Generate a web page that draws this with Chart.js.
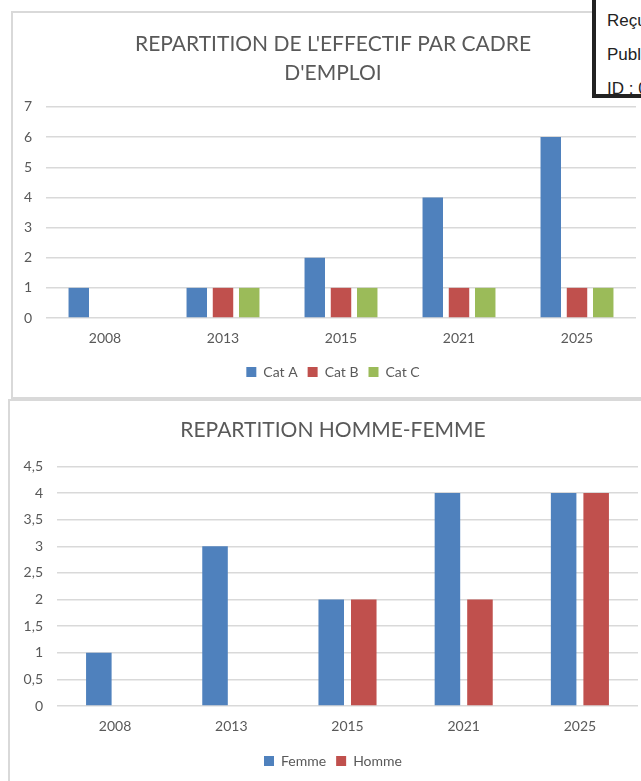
<!DOCTYPE html>
<html lang="fr">
<head>
<meta charset="utf-8">
<title>Répartition de l'effectif</title>
<script src="https://cdn.jsdelivr.net/npm/chart.js@4.4.1/dist/chart.umd.min.js"></script>
<style>
  html, body { margin: 0; padding: 0; background: #fff; }
  body { width: 641px; height: 781px; overflow: hidden; position: relative; }
  .frame { position: absolute; box-sizing: border-box; border: 2px solid #d9d9d9; background: #fff; }
  #frameEffectif { left: 11px; top: 11px; width: 680px; height: 388px; }
  #frameGenre { left: 8px; top: 399px; width: 680px; height: 420px; }
  canvas { position: absolute; }
  #chartEffectif { left: 11px; top: 11px; }
  #chartGenre { left: 9px; top: 399px; }
  .stamp {
    position: absolute; left: 592px; top: -10px; width: 260px; height: 108px;
    box-sizing: border-box; border: 4px solid #222; background: #fff;
    padding: 9.5px 0 0 11px;
    font-family: "Liberation Sans", Arial, sans-serif; font-size: 17px; color: #222;
    white-space: nowrap;
  }
  .stamp div { line-height: 34.3px; height: 34.3px; }
</style>
</head>
<body>
<div class="frame" id="frameEffectif"></div>
<div class="frame" id="frameGenre"></div>
<canvas id="chartEffectif" width="644" height="387"></canvas>
<canvas id="chartGenre" width="648" height="389"></canvas>
<div class="stamp">
  <div>Reçu en préfecture le</div>
  <div>Publié le</div>
  <div>ID : 0</div>
</div>

<script>
// Années
const annees = ['2008', '2013', '2015', '2021', '2025'];

// Effectif par cadre d'emploi
const catA = [1, 1, 2, 4, 6];
const catB = [0, 1, 1, 1, 1];
const catC = [0, 1, 1, 1, 1];

// Répartition homme-femme
const femmes = [1, 3, 2, 4, 4];
const hommes = [0, 0, 2, 2, 4];

const BLEU = '#4f81bd';
const ROUGE = '#c0504d';
const VERT = '#9bbb59';
const GRIS_TEXTE = '#595959';
const GRIS_GRILLE = '#d9d9d9';

Chart.defaults.font.family = 'Lato, "Open Sans", "DejaVu Sans", sans-serif';
Chart.defaults.color = GRIS_TEXTE;

function options(cfg) {
  return {
    responsive: false,
    animation: false,
    layout: { padding: { top: 0, left: 0, right: 0, bottom: cfg.margeBas } },
    plugins: {
      tooltip: { enabled: false },
      title: {
        display: true,
        text: cfg.titre,
        color: GRIS_TEXTE,
        font: { size: 21, weight: 'normal', lineHeight: 1.38 },
        padding: cfg.titrePadding
      },
      legend: {
        position: 'bottom',
        labels: {
          boxWidth: 10, boxHeight: 10, padding: 10,
          color: GRIS_TEXTE, font: { size: 14 }
        }
      }
    },
    scales: {
      x: {
        grid: { display: false, drawTicks: false },
        border: { display: false },
        ticks: { padding: 12, color: GRIS_TEXTE, font: { size: 14 } },
        afterFit: s => { s.height = cfg.hauteurX; }
      },
      y: {
        min: 0, max: cfg.max,
        grid: { color: GRIS_GRILLE, lineWidth: 1.5, drawTicks: false },
        border: { display: false },
        ticks: {
          stepSize: cfg.pas, padding: 14, color: GRIS_TEXTE, font: { size: 14 },
          callback: v => String(v).replace('.', ',')
        },
        afterFit: s => { s.width = cfg.largeurY; }
      },
      marge: {
        type: 'linear', position: 'right', display: true,
        grid: { display: false, drawTicks: false },
        border: { display: false },
        ticks: { display: false },
        afterFit: s => { s.width = 19; }
      }
    }
  };
}

new Chart(document.getElementById('chartEffectif'), {
  type: 'bar',
  data: {
    labels: annees,
    datasets: [
      { label: 'Cat A', data: catA, backgroundColor: BLEU },
      { label: 'Cat B', data: catB, backgroundColor: ROUGE },
      { label: 'Cat C', data: catC, backgroundColor: VERT }
    ].map(d => Object.assign(d, { categoryPercentage: 0.667, barPercentage: 0.78 }))
  },
  options: options({
    titre: ["REPARTITION DE L'EFFECTIF PAR CADRE", "D'EMPLOI"],
    titrePadding: { top: 18.5, bottom: 19.5 },
    hauteurX: 37, largeurY: 35, max: 7, pas: 1, margeBas: 9
  })
});

new Chart(document.getElementById('chartGenre'), {
  type: 'bar',
  data: {
    labels: annees,
    datasets: [
      { label: 'Femme', data: femmes, backgroundColor: BLEU },
      { label: 'Homme', data: hommes, backgroundColor: ROUGE }
    ].map(d => Object.assign(d, { categoryPercentage: 0.56, barPercentage: 0.785 }))
  },
  options: options({
    titre: 'REPARTITION HOMME-FEMME',
    titrePadding: { top: 16.5, bottom: 22 },
    hauteurX: 38, largeurY: 48, max: 4.5, pas: 0.5, margeBas: 10
  })
});
</script>
</body>
</html>
